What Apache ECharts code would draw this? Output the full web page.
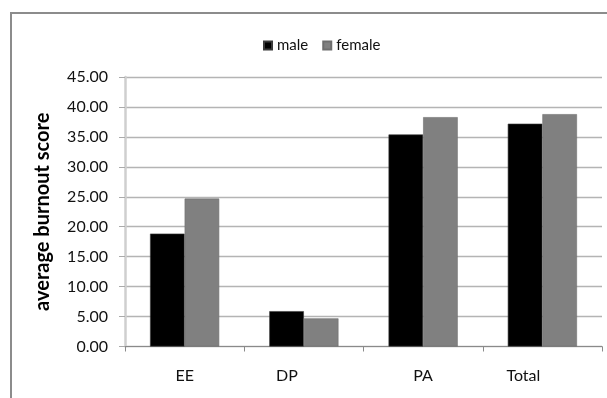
<!DOCTYPE html>
<html>
<head>
<meta charset="utf-8">
<script src="https://cdn.jsdelivr.net/npm/echarts@6/dist/echarts.min.js"></script>
<style>
html,body{margin:0;padding:0;background:#fff;}
#c{width:607px;height:398px;}
</style>
</head>
<body>
<div id="c"></div>
<script>
var categories = ['EE', 'DP', 'PA', 'Total'];
var maleValues = [18.85, 5.9, 35.4, 37.2];
var femaleValues = [24.7, 4.7, 38.3, 38.8];
var yTicks = { min: 0, max: 45, interval: 5 };

// label horizontal nudges (px, leftwards) as in the original layout
var labelShiftLeft = { 'EE': 0, 'DP': 17, 'PA': 0, 'Total': 19 };

var font = 'Lato, "Open Sans", sans-serif';
var catData = categories.map(function (c) {
  var s = labelShiftLeft[c] || 0;
  return { value: c, textStyle: { padding: [0, 2 * s, 0, 0] } };
});

var chart = echarts.init(document.getElementById('c'), null, { renderer: 'canvas' });
chart.setOption({
  animation: false,
  backgroundColor: '#ffffff',
  graphic: [{
    type: 'rect',
    shape: { x: 11, y: 13, width: 800, height: 600 },
    style: { fill: 'none', stroke: '#8c8c8c', lineWidth: 2 },
    silent: true, z: -1
  }],
  legend: {
    data: ['male', 'female'],
    left: 258, top: 33,
    itemWidth: 8, itemHeight: 8, itemGap: 14,
    icon: 'rect',
    textStyle: { fontFamily: font, fontSize: 15, color: '#111' }
  },
  grid: { left: 125, right: 5, top: 77, bottom: 51.5, containLabel: false },
  xAxis: {
    type: 'category',
    data: catData,
    axisLine: { lineStyle: { color: '#8a8a8a', width: 1 } },
    axisTick: { show: true, length: 5, lineStyle: { color: '#8a8a8a' } },
    axisLabel: { margin: 21, fontFamily: font, fontSize: 16, color: '#111' }
  },
  yAxis: {
    type: 'value',
    min: yTicks.min, max: yTicks.max, interval: yTicks.interval,
    name: 'average burnout score',
    nameLocation: 'middle',
    nameGap: 72,
    nameTextStyle: { fontFamily: font, fontSize: 20, fontWeight: 'bold', color: '#000' },
    axisLine: { show: true, lineStyle: { color: '#cfcfcf', width: 2.5 } },
    axisTick: { show: true, length: 6, lineStyle: { color: '#aaaaaa' } },
    splitLine: { lineStyle: { color: '#b4b4b4', width: 1.3 } },
    axisLabel: { margin: 17, fontFamily: font, fontSize: 16, color: '#111',
      formatter: function (v) { return v.toFixed(2); } }
  },
  series: [
    { name: 'male', type: 'bar', data: maleValues, barGap: '0%', barCategoryGap: '42%',
      itemStyle: { color: '#000000', borderColor: '#3a3a3a', borderWidth: 0.6 } },
    { name: 'female', type: 'bar', data: femaleValues,
      itemStyle: { color: '#808080', borderColor: '#6e6e6e', borderWidth: 0.6 } }
  ]
});
</script>
</body>
</html>
